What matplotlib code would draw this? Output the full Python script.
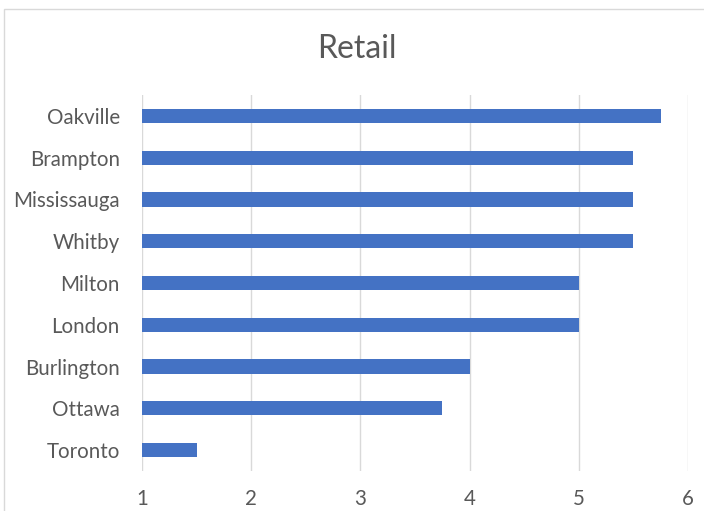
import matplotlib

matplotlib.use("Agg")

import matplotlib.pyplot as plt
from matplotlib.patches import Rectangle

# Data (top to bottom)
CITIES = [
    "Oakville",
    "Brampton",
    "Mississauga",
    "Whitby",
    "Milton",
    "London",
    "Burlington",
    "Ottawa",
    "Toronto",
]
SCORES = [5.75, 5.5, 5.5, 5.5, 5.0, 5.0, 4.0, 3.75, 1.5]
X_TICKS = [1, 2, 3, 4, 5, 6]
AXIS_START = 1

BAR_COLOR = "#4472C4"
TEXT_COLOR = "#595959"
GRID_COLOR = "#D9D9D9"

plt.rcParams["font.family"] = ["Lato", "DejaVu Sans"]

figure = plt.figure(figsize=(7.04, 5.11), dpi=100)
axis = figure.add_axes([142 / 704, 40 / 511, 546 / 704, 376 / 511])

positions = list(range(len(CITIES)))
widths = [value - AXIS_START for value in SCORES]
axis.barh(positions, widths, left=AXIS_START, height=0.34, color=BAR_COLOR, zorder=3)

axis.set_xlim(X_TICKS[0], X_TICKS[-1])
axis.set_ylim(len(CITIES) - 0.5, -0.5)
axis.set_xticks(X_TICKS)
axis.set_yticks(positions, CITIES)
axis.grid(True, axis="x", color=GRID_COLOR, linewidth=1.0, zorder=0)
for spine in axis.spines.values():
    spine.set_visible(False)
axis.tick_params(axis="both", length=0, labelsize=14.8, labelcolor=TEXT_COLOR)
axis.tick_params(axis="y", pad=16)
axis.tick_params(axis="x", pad=13)

figure.text(357 / 704, 1 - 49 / 511, "Retail", ha="center", va="center",
            fontsize=23, color=TEXT_COLOR)

# Chart-area border, as in the spreadsheet export
figure.patches.append(
    Rectangle((4 / 704, -0.2), 1.2, 1.2 - 9 / 511, transform=figure.transFigure,
              fill=False, edgecolor=GRID_COLOR, linewidth=1.0)
)

figure.savefig("out.png", dpi=100)
